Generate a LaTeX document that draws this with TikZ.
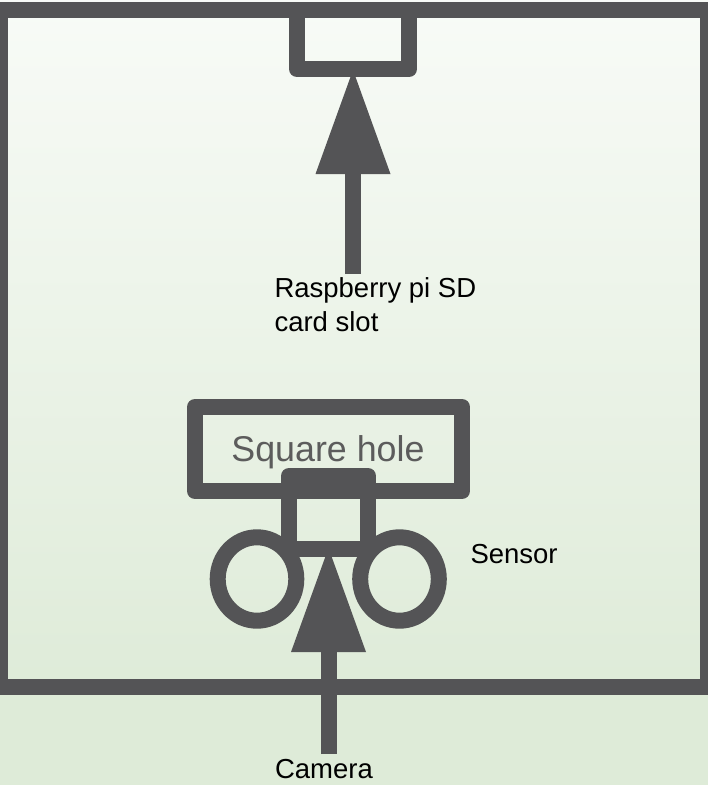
\documentclass[tikz,border=0pt]{standalone}
\usepackage{fontspec}
\setmainfont{Liberation Sans}
\usetikzlibrary{arrows.meta,shapes.geometric}
\definecolor{ink}{HTML}{545456}
\definecolor{holetext}{HTML}{5C5C5C}
\definecolor{bgtop}{HTML}{F8FBF7}
\definecolor{bgbot}{HTML}{DEEBD8}
\tikzset{
  x=1pt,y=-1pt,
  part/.style={draw=ink,line width=16pt,line join=round,inner sep=0pt,outer sep=0pt,fill=none},
  ring/.style={part,ellipse},
  pointer/.style={draw=ink,line width=16pt,-{Triangle[length=104pt,width=75pt,line width=0pt,fill=ink]}},
  label/.style={font=\fontsize{27.5pt}{34pt}\selectfont,text=black,inner sep=0pt,outer sep=0pt,align=left}
}
\begin{document}
\begin{tikzpicture}
\useasboundingbox (0,0) rectangle (708,785);
\shade[top color=bgtop,bottom color=bgbot] (0,0) rectangle (708,700);
\fill[bgbot] (0,700) rectangle (708,785);
\node[part,minimum width=708pt,minimum height=677pt,anchor=north west] (frame) at (0,9.5) {};
\node[part,minimum width=112pt,minimum height=59.5pt,anchor=north west] (slot) at (297,9.5) {};
\node[part,minimum width=267pt,minimum height=84pt,anchor=north west] (hole) at (195,407) {};
\node[font=\fontsize{35.8pt}{38pt}\selectfont,text=holetext,inner sep=0pt,anchor=base] (holetxt) at (328,461) {Square hole};
\node[part,minimum width=79pt,minimum height=73pt,anchor=north west] (sensorbody) at (289,476) {};
\node[ring,minimum width=78.6pt,minimum height=83.4pt] (ringl) at (257,579) {};
\node[ring,minimum width=78.6pt,minimum height=83.4pt] (ringr) at (399.5,579) {};
\node[label,anchor=base west] (sdlabel) at (274.5,331) {Raspberry pi SD\\card slot};
\node[label,anchor=base west] (sensorlabel) at (470.5,563) {Sensor};
\node[label,anchor=base west] (cameralabel) at (275,778) {Camera};
\coordinate (sdtail) at (353,274);
\coordinate (sdtip) at (353,70);
\coordinate (camtail) at (328.5,754);
\coordinate (camtip) at (328.5,548);
\draw[pointer] (sdtail) -- (sdtip);
\draw[pointer] (camtail) -- (camtip);
\end{tikzpicture}
\end{document}
